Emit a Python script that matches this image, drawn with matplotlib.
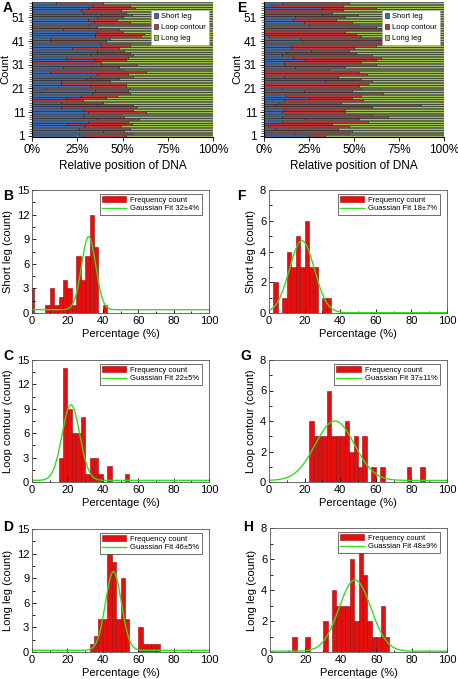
import numpy as np
import matplotlib
matplotlib.use('Agg')
import matplotlib.pyplot as plt
from matplotlib.ticker import MultipleLocator

plt.rcParams['font.family'] = ['Liberation Sans', 'DejaVu Sans']

W, H = 458, 679

# ---- panel A / E : relative position of DNA per molecule (rows 1..57, bottom up) ----
a_short = [28, 26, 39, 26, 29, 20, 31, 36, 28, 29, 31, 28, 16, 36, 16, 0, 19, 27, 33, 35,
           8, 32, 16, 16, 30, 32, 36, 10, 33, 17, 38, 0, 34, 19, 32, 36, 36, 22, 38, 37,
           10, 10, 35, 35, 36, 17, 0, 31, 34, 31, 36, 38, 28, 27, 31, 33, 13]
a_loop = [24, 29, 12, 28, 20, 35, 22, 23, 23, 20, 32, 28, 42, 20, 23, 28, 22, 20, 21, 18,
          46, 20, 36, 27, 18, 24, 17, 53, 17, 31, 20, 38, 18, 34, 24, 18, 15, 26, 16, 17,
          31, 33, 25, 27, 14, 31, 36, 35, 20, 16, 14, 17, 24, 22, 26, 21, 26]
e_short = [25, 17, 0, 6, 2, 0, 10, 23, 10, 12, 10, 11, 0, 6, 8, 11, 25, 12, 0, 22,
           10, 0, 0, 34, 0, 11, 0, 0, 0, 17, 11, 11, 23, 16, 10, 12, 26, 15, 15, 0,
           21, 20, 3, 0, 0, 0, 0, 25, 22, 16, 17, 32, 0, 0, 32, 5, 10]
e_loop = [9, 30, 49, 35, 45, 38, 48, 30, 59, 48, 35, 34, 60, 81, 35, 44, 24, 42, 66, 27,
          44, 53, 58, 26, 54, 30, 57, 53, 36, 28, 51, 43, 39, 49, 50, 39, 21, 35, 47, 70,
          58, 45, 51, 51, 45, 65, 62, 27, 27, 24, 28, 20, 38, 44, 30, 39, 37]
row_ticks = [1, 11, 21, 31, 41, 51]
pct_ticks = [0, 25, 50, 75, 100]
pct_labels = ['0%', '25%', '50%', '75%', '100%']
seg_names = ['Short leg', 'Loop contour', 'Long leg']
seg_colors = ['#3b6db3', '#b9383a', '#9dc24f']

# ---- histograms (bin left edge, count), bin width 2.5 % ----
bin_w = 2.5
b_left = [-1.25, 7.5, 10, 12.5, 15, 17.5, 20, 22.5, 25, 27.5, 30, 32.5, 35, 40]
b_count = [3, 1, 3, 1, 2, 4, 3, 1, 7, 4, 7, 12, 8, 1]
c_left = [15, 17.5, 20, 22.5, 25, 27.5, 30, 32.5, 35, 37.5, 42.5, 52.5]
c_count = [3, 14, 9, 6, 6, 8, 1, 3, 3, 1, 2, 1]
d_left = [32.5, 35, 37.5, 40, 42.5, 45, 47.5, 50, 52.5, 60, 62.5, 65, 67.5, 70]
d_count = [1, 2, 4, 4, 12, 11, 4, 9, 4, 3, 1, 1, 1, 1]
f_left = [2.5, 7.5, 10, 12.5, 15, 17.5, 20, 22.5, 25, 30, 32.5]
f_count = [2, 1, 4, 3, 5, 3, 6, 3, 3, 1, 1]
g_left = [22.5, 25, 27.5, 30, 32.5, 35, 37.5, 40, 42.5, 45, 47.5, 50, 52.5, 57.5, 62.5, 77.5, 85]
g_count = [4, 3, 3, 3, 6, 3, 3, 3, 4, 2, 3, 1, 3, 1, 1, 1, 1]
h_left = [12.5, 20, 30, 35, 37.5, 40, 42.5, 45, 47.5, 50, 52.5, 55, 57.5, 60, 62.5, 65]
h_count = [1, 1, 2, 4, 3, 3, 3, 6, 2, 7, 5, 2, 1, 1, 3, 1]

# gaussian fit parameters: baseline, amplitude, centre, sigma
b_fit = [0.4, 8.9, 32, 4]
c_fit = [0.2, 9.3, 22, 5]
d_fit = [0.2, 9.6, 46, 4.5]
f_fit = [0.02, 4.68, 18.5, 7]
g_fit = [0.1, 3.9, 37, 11]
h_fit = [0.05, 4.6, 48, 9]

fig = plt.figure(figsize=(W / 100, H / 100), dpi=100)


def ax_at(l, t, r, b):
    return fig.add_axes([l / W, 1 - b / H, (r - l) / W, (b - t) / H])


def stacked(ax, short, loop, letter, lx):
    rows = np.arange(1, len(short) + 1)
    short = np.array(short)
    loop = np.array(loop)
    long_ = 100 - short - loop
    kw = dict(height=0.8, edgecolor='#222222', linewidth=0.45)
    ax.barh(rows, short, color=seg_colors[0], label=seg_names[0], **kw)
    ax.barh(rows, loop, left=short, color=seg_colors[1], label=seg_names[1], **kw)
    ax.barh(rows, long_, left=short + loop, color=seg_colors[2], label=seg_names[2], **kw)
    ax.set_xlim(0, 100)
    ax.set_ylim(0.5, len(short) + 0.5)
    ax.set_yticks(row_ticks)
    ax.set_yticks(rows, minor=True)
    ax.set_xticks(pct_ticks)
    ax.set_xticklabels(pct_labels)
    ax.tick_params(labelsize=8.5, length=3, width=0.6, pad=2)
    ax.tick_params(which='minor', length=2, width=0.4)
    for s in ['top', 'right']:
        ax.spines[s].set_visible(False)
    ax.set_ylabel('Count', fontsize=8, labelpad=1)
    ax.set_xlabel('Relative position of DNA', fontsize=8.5, labelpad=3)
    leg = ax.legend(loc='upper right', fontsize=5.5, handlelength=0.6, handleheight=0.6,
                    handletextpad=0.4, borderpad=0.4, labelspacing=0.5,
                    fancybox=False, framealpha=1, bbox_to_anchor=(1.0, 0.97))
    leg.get_frame().set_edgecolor('#aaaaaa')
    leg.get_frame().set_linewidth(0.5)
    fig.text(lx / W, 1 - 8 / H, letter, fontsize=10, fontweight='bold', va='center')


def hist(ax, left, count, fit, ymax, ystep, ylabel, fitlabel, letter, lx, ly):
    bars = ax.bar(left, count, width=bin_w, align='edge', color='#e3100f',
                  edgecolor='#9a0a0a', linewidth=0.4, label='Frequency count')
    x = np.linspace(0, 100, 400)
    y0, amp, xc, sg = fit
    line, = ax.plot(x, y0 + amp * np.exp(-(x - xc) ** 2 / (2 * sg ** 2)), color='#33dd22',
                    lw=1.0, label=fitlabel)
    ax.set_xlim(0, 100)
    ax.set_ylim(0, ymax)
    ax.xaxis.set_major_locator(MultipleLocator(20))
    ax.xaxis.set_minor_locator(MultipleLocator(10))
    ax.yaxis.set_major_locator(MultipleLocator(ystep))
    ax.yaxis.set_minor_locator(MultipleLocator(ystep / 2))
    ax.tick_params(which='both', direction='in', labelsize=8, width=0.6, pad=2)
    ax.tick_params(which='major', length=3)
    ax.tick_params(which='minor', length=1.8)
    for s in ax.spines.values():
        s.set_linewidth(0.6)
        s.set_color('#555555')
    ax.set_ylabel(ylabel, fontsize=8, labelpad=3)
    ax.set_xlabel('Percentage (%)', fontsize=8, labelpad=2)
    leg = ax.legend([bars, line], ['Frequency count', fitlabel], loc='upper right',
                    fontsize=5.5, handlelength=3.2, handleheight=0.8,
                    handletextpad=0.5, borderpad=0.3, labelspacing=0.15,
                    fancybox=False, framealpha=1, bbox_to_anchor=(0.98, 1.0))
    leg.get_frame().set_edgecolor('#333333')
    leg.get_frame().set_linewidth(0.5)
    fig.text(lx / W, 1 - ly / H, letter, fontsize=10, fontweight='bold', va='center')


axA = ax_at(32, 2, 213, 137)
stacked(axA, a_short, a_loop, 'A', 3)
axE = ax_at(264, 2, 444, 137)
stacked(axE, e_short, e_loop, 'E', 237)

hist(ax_at(32, 190, 209, 313), b_left, b_count, b_fit, 15, 3, 'Short leg (count)',
     'Gaussian Fit 32±4%', 'B', 3, 196)
hist(ax_at(32, 360, 209, 482), c_left, c_count, c_fit, 15, 3, 'Loop contour (count)',
     'Guassian Fit 22±5%', 'C', 3, 356)
hist(ax_at(32, 529, 209, 652), d_left, d_count, d_fit, 15, 3, 'Long leg (count)',
     'Guassian Fit 46±5%', 'D', 3, 527)
hist(ax_at(269, 190, 447, 313), f_left, f_count, f_fit, 8, 2, 'Short leg (count)',
     'Guassian Fit 18±7%', 'F', 237, 196)
hist(ax_at(269, 360, 447, 482), g_left, g_count, g_fit, 8, 2, 'Loop contour (count)',
     'Guassian Fit 37±11%', 'G', 240, 356)
hist(ax_at(270, 528, 447, 652), h_left, h_count, h_fit, 8, 2, 'Long leg (count)',
     'Guassian Fit 48±9%', 'H', 243, 527)

fig.savefig('out.png', dpi=100)
